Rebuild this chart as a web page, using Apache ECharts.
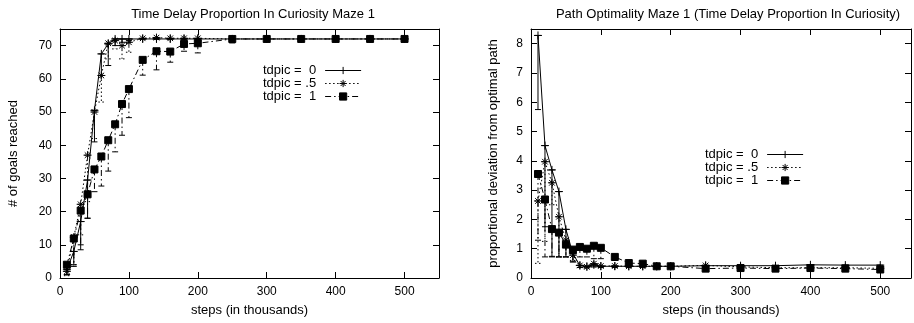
<!DOCTYPE html>
<html>
<head>
<meta charset="utf-8">
<script src="https://cdn.jsdelivr.net/npm/echarts@6/dist/echarts.min.js"></script>
<style>
  html, body { margin: 0; padding: 0; background: #fff; }
  #chart { width: 914px; height: 323px; }
</style>
</head>
<body>
<div id="chart"></div>
<script>
// Training steps (thousands) at which both measures were sampled
const steps = [10, 20, 30, 40, 50, 60, 70, 80, 90, 100, 120, 140, 160, 180, 200, 250, 300, 350, 400, 450, 500];

// Number of goals reached, per tdpic setting, with lower error bound
const goals0   = [2.5, 8, 17, 29.5, 50.5, 67.5, 70.5, 72, 72, 72, 72, 72, 72, 72, 72, 72, 72, 72, 72, 72, 72];
const goals0Lo = [1, 4, 8.5, 18, 41, 61, 64, 70, 71, 71.5, 72, 72, 72, 72, 72, 71, 72, 72, 72, 72, 72];
const goals5   = [2, 12.3, 22.2, 37, 50, 61, 70.7, 71.5, 70, 71, 72.2, 72.4, 72.2, 72.2, 72.2, 72, 72, 72, 72, 72, 72];
const goals5Lo = [0.7, 4, 13, 23, 42, 53, 66, 69, 66, 68, 72, 72, 72, 72, 72, 72, 72, 72, 72, 72, 72];
const goals1   = [4, 11.9, 20.3, 25.2, 32.7, 36.6, 41.5, 46.3, 52.4, 56.9, 65.7, 68.3, 68.2, 70.5, 70.7, 72, 72, 72, 72, 72, 72];
const goals1Lo = [1, 3.5, 10, 18, 26, 27.7, 32.2, 38, 43, 48.3, 61.1, 62.7, 65, 68.3, 67.8, 70.8, 72, 72, 72, 72, 72];

// Proportional deviation from the optimal path, with lower error bound
const dev0   = [8.28, 4.52, 3.69, 2.95, 1.66, 0.83, 0.43, 0.4, 0.45, 0.4, 0.4, 0.4, 0.4, 0.4, 0.4, 0.42, 0.42, 0.42, 0.45, 0.44, 0.44];
const dev0Lo = [5.75, 1.75, 0.74, 0.72, 0.72, 0.55, 0.36, 0.35, 0.38, 0.36, 0.36, 0.36, 0.38, 0.38, 0.38, 0.38, 0.36, 0.36, 0.38, 0.38, 0.38];
const dev5   = [2.63, 3.97, 3.25, 2.09, 1.29, 0.78, 0.43, 0.38, 0.49, 0.41, 0.41, 0.4, 0.4, 0.4, 0.4, 0.43, 0.38, 0.35, 0.35, 0.35, 0.33];
const dev5Lo = [0.5, 1.25, 2.5, 0.72, 0.72, 0.6, 0.36, 0.34, 0.38, 0.36, 0.36, 0.36, 0.36, 0.36, 0.36, 0.36, 0.34, 0.32, 0.32, 0.32, 0.3];
const dev1   = [3.55, 2.68, 1.67, 1.55, 1.14, 0.97, 1.06, 1.0, 1.1, 1.03, 0.72, 0.51, 0.49, 0.4, 0.4, 0.32, 0.34, 0.32, 0.34, 0.32, 0.29];
const dev1Lo = [1.29, 0.72, 0.72, 0.72, 0.72, 0.55, 0.72, 0.72, 0.66, 0.66, 0.6, 0.45, 0.42, 0.36, 0.36, 0.28, 0.3, 0.28, 0.3, 0.28, 0.25];

const seriesNames = ['tdpic =  0', 'tdpic = .5', 'tdpic =  1'];
const titles = [
  'Time Delay Proportion In Curiosity Maze 1',
  'Path Optimality Maze 1 (Time Delay Proportion In Curiosity)'
];
const xTitle = 'steps (in thousands)';
const yTitles = ['# of goals reached', 'proportional deviation from optimal path'];

const FONT = '"Liberation Sans", Arial, Helvetica, sans-serif';
const INK = '#000';
const TEXT_SIZE = 13;
const TICK_SIZE = 12;

// Marker and dash style for each tdpic setting
const PLUS = 'path://M0,5L10,5M5,0L5,10';
const STAR = 'path://M0,5L10,5M5,0L5,10M1.5,1.5L8.5,8.5M8.5,1.5L1.5,8.5';
const looks = [
  { symbol: PLUS, size: 8, dash: 'solid' },
  { symbol: STAR, size: 8, dash: [1.5, 2.5] },
  { symbol: 'rect', size: 7, dash: [6, 3, 1.5, 3] }
];

function tickText(step) {
  return function (v) {
    return Math.abs(v / step - Math.round(v / step)) < 1e-6 ? String(v) : '';
  };
}

function makeXAxes(gridIndex, max) {
  const base = {
    gridIndex, type: 'value', min: 0, max, interval: 100,
    splitLine: { show: false },
    axisLine: { show: true, onZero: false, lineStyle: { color: INK, width: 1 } },
    axisTick: { show: true, inside: true, length: 6, lineStyle: { color: INK } }
  };
  return [
    Object.assign({}, base, {
      position: 'bottom',
      axisLabel: { color: INK, fontSize: TICK_SIZE, fontFamily: FONT, margin: 8, formatter: tickText(100) },
      name: xTitle, nameLocation: 'middle', nameGap: 26,
      nameTextStyle: { color: INK, fontSize: TEXT_SIZE, fontFamily: FONT }
    }),
    Object.assign({}, base, { position: 'top', axisLabel: { show: false } })
  ];
}

function makeYAxes(gridIndex, max, step, nameGap) {
  const base = {
    gridIndex, type: 'value', min: 0, max, interval: step,
    splitLine: { show: false },
    axisLine: { show: true, onZero: false, lineStyle: { color: INK, width: 1 } },
    axisTick: { show: true, inside: true, length: 6, lineStyle: { color: INK } }
  };
  return [
    Object.assign({}, base, {
      position: 'left',
      axisLabel: { color: INK, fontSize: TICK_SIZE, fontFamily: FONT, margin: 8, formatter: tickText(step) },
      name: yTitles[gridIndex], nameLocation: 'middle', nameGap, nameRotate: 90,
      nameTextStyle: { color: INK, fontSize: TEXT_SIZE, fontFamily: FONT }
    }),
    Object.assign({}, base, { position: 'right', axisLabel: { show: false } })
  ];
}

// Vertical error bar from the lower bound up to the point, capped at both ends
function errorBar(dash) {
  return function (params, api) {
    const x = api.value(0);
    const top = api.coord([x, api.value(1)]);
    const bot = api.coord([x, api.value(2)]);
    const cap = 3;
    const style = { stroke: INK, lineWidth: 1, fill: null, lineDash: dash === 'solid' ? null : dash };
    return {
      type: 'group',
      children: [
        { type: 'line', shape: { x1: top[0], y1: top[1], x2: bot[0], y2: bot[1] }, style },
        { type: 'line', shape: { x1: top[0] - cap, y1: top[1], x2: top[0] + cap, y2: top[1] }, style },
        { type: 'line', shape: { x1: bot[0] - cap, y1: bot[1], x2: bot[0] + cap, y2: bot[1] }, style }
      ]
    };
  };
}

function buildSeries(panel, values, lows) {
  const out = [];
  values.forEach(function (vals, k) {
    const look = looks[k];
    out.push({
      name: 'bars-' + panel + '-' + k,
      type: 'custom',
      xAxisIndex: panel * 2, yAxisIndex: panel * 2,
      renderItem: errorBar(look.dash),
      encode: { x: 0, y: 1 },
      data: steps.map(function (s, i) { return [s, vals[i], lows[k][i]]; }),
      z: 2, silent: true
    });
    out.push({
      name: seriesNames[k],
      type: 'line',
      xAxisIndex: panel * 2, yAxisIndex: panel * 2,
      data: steps.map(function (s, i) { return [s, vals[i]]; }),
      symbol: look.symbol, symbolSize: look.size, showAllSymbol: true,
      lineStyle: { color: INK, width: 1, type: look.dash },
      itemStyle: { color: INK, borderColor: INK, borderWidth: 1 },
      animation: false, z: 3
    });
  });
  return out;
}

function legendAt(left, top) {
  return {
    data: seriesNames, orient: 'vertical', left, top, align: 'right',
    itemWidth: 36, itemHeight: 9, itemGap: 0, padding: 0,
    selectedMode: false,
    lineStyle: { width: 1 },
    itemStyle: { borderWidth: 1 },
    textStyle: { color: INK, fontSize: TEXT_SIZE, fontFamily: FONT, padding: [0, 4, 0, 0] }
  };
}

const chart = echarts.init(document.getElementById('chart'), null, { renderer: 'canvas' });
chart.setOption({
  backgroundColor: '#fff',
  animation: false,
  title: [
    { text: titles[0], left: 248, top: 3, textAlign: 'center',
      textStyle: { color: INK, fontSize: TEXT_SIZE, fontWeight: 'normal', fontFamily: FONT } },
    { text: titles[1], left: 723, top: 3, textAlign: 'center',
      textStyle: { color: INK, fontSize: TEXT_SIZE, fontWeight: 'normal', fontFamily: FONT } }
  ],
  legend: [legendAt(263, 64), legendAt(705, 148)],
  grid: [
    { left: 60, top: 29, width: 379, height: 249 },
    { left: 531, top: 29, width: 382, height: 249 }
  ],
  xAxis: makeXAxes(0, 550).concat(makeXAxes(1, 544)),
  yAxis: makeYAxes(0, 75, 10, 40).concat(makeYAxes(1, 8.5, 1, 31)),
  series: buildSeries(0, [goals0, goals5, goals1], [goals0Lo, goals5Lo, goals1Lo])
    .concat(buildSeries(1, [dev0, dev5, dev1], [dev0Lo, dev5Lo, dev1Lo]))
});
</script>
</body>
</html>
